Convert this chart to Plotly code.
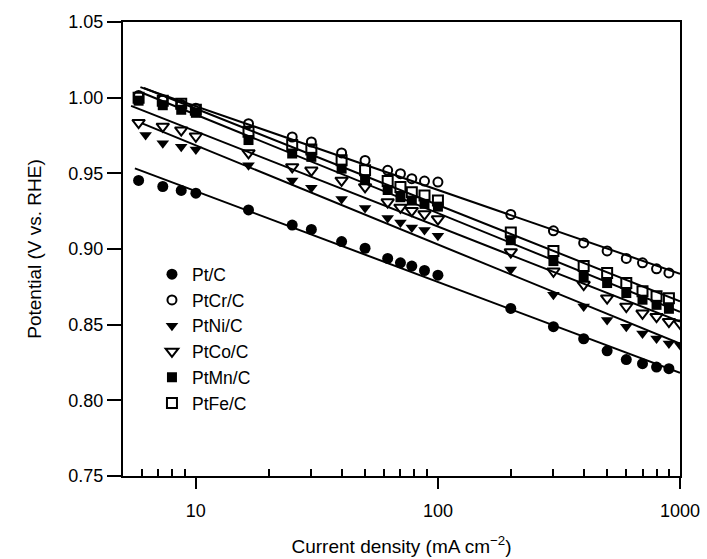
import numpy as np
import plotly.graph_objects as go

# ---- data ----
current = [5.8, 7.3, 8.7, 10, 16.5, 25, 30, 40, 50, 62, 70, 78, 88, 100,
           200, 300, 400, 500, 600, 700, 800, 900]
current_ext = current + [1000]
current_ni = [6.2, 7.3, 8.7, 10, 16.5, 25, 30, 40, 50, 62, 70, 78, 88, 100,
              200, 300, 400, 500, 600, 700, 800, 900, 1000]

pt_c = [0.9453, 0.9413, 0.9387, 0.9369, 0.9258, 0.9158, 0.9129, 0.9049, 0.9005,
        0.8938, 0.8909, 0.8887, 0.8858, 0.8827, 0.8607, 0.8487, 0.8407, 0.8327,
        0.8269, 0.8242, 0.8220, 0.8209]
ptcr_c = [1.0015, 0.9985, 0.9955, 0.9930, 0.9828, 0.9740, 0.9707, 0.9635, 0.9585,
          0.9520, 0.9498, 0.9465, 0.9449, 0.9442, 0.9228, 0.9120, 0.9040, 0.8987,
          0.8938, 0.8909, 0.8869, 0.8842]
ptni_c = [0.9753, 0.9698, 0.9675, 0.9658, 0.9553, 0.9453, 0.9405, 0.9331, 0.9271,
          0.9205, 0.9175, 0.9142, 0.9125, 0.9087, 0.8865, 0.8698, 0.8620, 0.8531,
          0.8487, 0.8442, 0.8409, 0.8375, 0.8365]
ptco_c = [0.9835, 0.9810, 0.9785, 0.9745, 0.9635, 0.9542, 0.9520, 0.9453, 0.9410,
          0.9310, 0.9275, 0.9253, 0.9231, 0.9198, 0.8980, 0.8853, 0.8765, 0.8675,
          0.8620, 0.8575, 0.8553, 0.8520, 0.8509]
ptmn_c = [0.9980, 0.9950, 0.9920, 0.9900, 0.9720, 0.9631, 0.9609, 0.9531, 0.9460,
          0.9390, 0.9342, 0.9320, 0.9298, 0.9280, 0.9058, 0.8920, 0.8820, 0.8775,
          0.8709, 0.8665, 0.8631, 0.8605]
ptfe_c = [1.0000, 0.9980, 0.9960, 0.9920, 0.9775, 0.9687, 0.9658, 0.9587, 0.9520,
          0.9450, 0.9409, 0.9375, 0.9353, 0.9320, 0.9109, 0.8987, 0.8887, 0.8842,
          0.8775, 0.8720, 0.8687, 0.8675]

# start of each fitted Tafel line (mA cm-2)
fit_start = {"Pt/C": 5.6, "PtCr/C": 5.9, "PtNi/C": 6.0, "PtCo/C": 5.4,
             "PtMn/C": 6.1, "PtFe/C": 6.1}
fit_end = 1000

y_ticks = [0.75, 0.80, 0.85, 0.90, 0.95, 1.00, 1.05]
x_ticks = [10, 100, 1000]
x_minor = [6, 7, 8, 9, 20, 30, 40, 50, 60, 70, 80, 90,
           200, 300, 400, 500, 600, 700, 800, 900]

series = [
    ("Pt/C", current, pt_c, "circle"),
    ("PtCr/C", current, ptcr_c, "circle-open"),
    ("PtNi/C", current_ni, ptni_c, "triangle-down"),
    ("PtCo/C", current_ext, ptco_c, "triangle-down-open"),
    ("PtMn/C", current, ptmn_c, "square"),
    ("PtFe/C", current, ptfe_c, "square-open"),
]

fig = go.Figure()

# fitted lines
for name, xs, ys, sym in series:
    k, b = np.polyfit(np.log10(xs), ys, 1)
    xl = np.array([fit_start[name], fit_end])
    fig.add_trace(go.Scatter(x=xl, y=k * np.log10(xl) + b, mode="lines",
                             line=dict(color="black", width=2),
                             showlegend=False, hoverinfo="skip"))

# data markers
for name, xs, ys, sym in series:
    open_ = sym.endswith("open")
    if sym == "circle":
        size = 11
    elif sym == "circle-open":
        size = 9
    else:
        size = 11 if "triangle" in sym else 10
    fig.add_trace(go.Scatter(
        x=xs, y=ys, mode="markers", name=name,
        marker=dict(symbol=sym, size=size, color="black",
                    line=dict(color="black", width=2 if open_ else 0)),
    ))

font_family = "Arial, Liberation Sans, sans-serif"
fig.update_layout(
    width=707, height=559,
    margin=dict(l=123, r=27, t=22, b=83),
    paper_bgcolor="white", plot_bgcolor="white",
    font=dict(family=font_family, color="black", size=18),
    legend=dict(x=0.052, y=0.484, xanchor="left", yanchor="top",
                bgcolor="rgba(0,0,0,0)", font=dict(size=17.5),
                tracegroupgap=0, itemwidth=30),
    showlegend=True,
)
fig.update_xaxes(
    type="log", range=[np.log10(5), 3], automargin=False,
    tickvals=x_ticks, ticktext=[str(v) for v in x_ticks],
    ticks="outside", ticklen=11, tickwidth=2, tickcolor="black",
    showline=True, linewidth=2, linecolor="black", mirror=True,
    showgrid=False, zeroline=False,
    minor=dict(tickvals=x_minor, ticks="inside", ticklen=7, tickwidth=1.5,
               tickcolor="black", showgrid=False),
    tickfont=dict(size=18), ticklabelstandoff=6,
    title=dict(text="Current density (mA cm<sup>\u22122</sup>)", font=dict(size=19),
               standoff=20),
)
fig.update_yaxes(
    range=[0.75, 1.05], automargin=False,
    tickvals=y_ticks, ticktext=[f"{v:.2f}" for v in y_ticks],
    ticks="outside", ticklen=14, tickwidth=2, tickcolor="black",
    showline=True, linewidth=2, linecolor="black", mirror=True,
    showgrid=False, zeroline=False,
    tickfont=dict(size=18),
    title=dict(text="Potential (V vs. RHE)", font=dict(size=19), standoff=22),
)

fig.write_html("out.html")
